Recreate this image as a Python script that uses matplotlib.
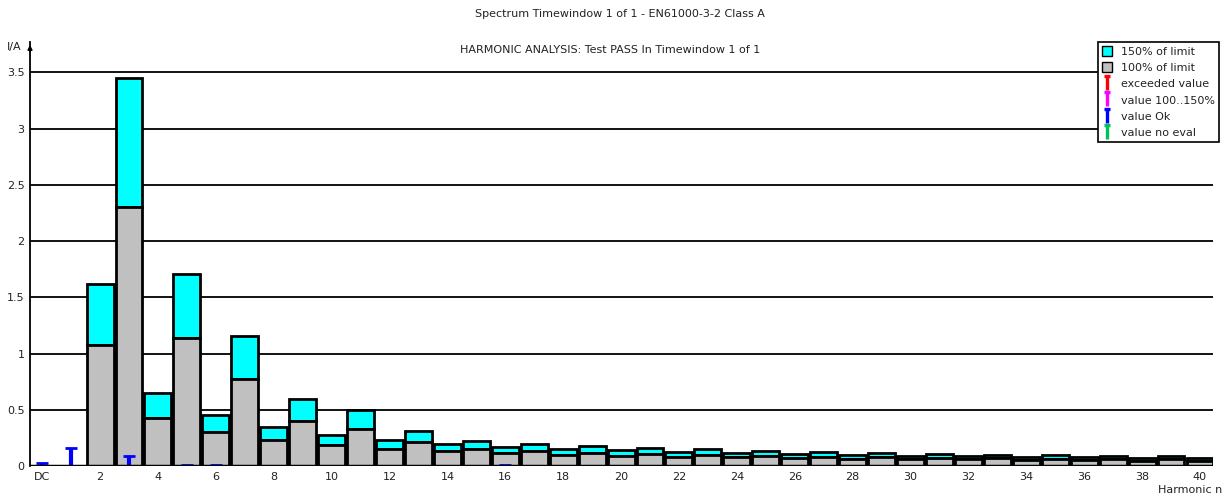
import matplotlib
matplotlib.use("Agg")
import matplotlib.pyplot as plt
from matplotlib.patches import Rectangle
from matplotlib.lines import Line2D
from matplotlib.path import Path

# EN61000-3-2 Class A limits (A) for harmonics 2..40
harmonics = list(range(2, 41))
limit_100 = [1.08, 2.30, 0.43, 1.14, 0.30, 0.77, 0.23, 0.40, 0.184, 0.33,
             0.153, 0.21, 0.131, 0.15, 0.115, 0.132, 0.102, 0.118, 0.092, 0.107,
             0.084, 0.098, 0.077, 0.09, 0.071, 0.083, 0.066, 0.078, 0.061, 0.073,
             0.058, 0.068, 0.054, 0.064, 0.051, 0.061, 0.048, 0.058, 0.046]
limit_150 = [v * 1.5 for v in limit_100]

# Measured currents (A), index 0 = DC, 1 = fundamental
measured_n = [0, 1, 3, 5, 6, 16]
measured_val = [0.025, 0.16, 0.09, 0.012, 0.012, 0.006]

tick_pos = [0] + list(range(2, 41, 2))
tick_lab = ["DC"] + [str(v) for v in range(2, 41, 2)]
ytick_vals = [0, 0.5, 1, 1.5, 2, 2.5, 3, 3.5]
ytick_labs = ["0", "0.5", "1", "1.5", "2", "2.5", "3", "3.5"]

txt = "#222222"
cyan = "#00ffff"
gray = "#c0c0c0"

fig = plt.figure(figsize=(12.25, 4.97), dpi=100)
ax = fig.add_axes([30 / 1225, 1 - 466 / 497, (1213 - 30) / 1225, (466 - 42) / 497])

width = 0.93
ax.bar(harmonics, [b - a for a, b in zip(limit_100, limit_150)], bottom=limit_100,
       width=width, color=cyan, edgecolor="black", linewidth=2.0, zorder=3)
ax.bar(harmonics, limit_100, width=width, color=gray, edgecolor="black",
       linewidth=2.0, zorder=3)

# Measured values drawn as T-shaped markers
ax.vlines(measured_n, 0, measured_val, colors="#0000ff", linewidth=3, zorder=4)
ax.hlines(measured_val, [n - 0.2 for n in measured_n], [n + 0.2 for n in measured_n],
          colors="#0000ff", linewidth=2, zorder=4)

ax.set_xlim(-0.42, 40.45)
ax.set_ylim(0, 3.77)
for y in ytick_vals[1:]:
    ax.axhline(y, color="black", linewidth=1.3, zorder=1)
ax.axhline(0, color="black", linewidth=2.5, zorder=5)

for s in ["top", "right", "bottom"]:
    ax.spines[s].set_visible(False)
ax.spines["left"].set_linewidth(1.3)

ax.set_xticks(tick_pos)
ax.set_xticklabels(tick_lab, fontsize=8, color=txt)
ax.set_yticks(ytick_vals)
ax.set_yticklabels(ytick_labs, fontsize=8, color=txt)
ax.tick_params(axis="both", length=0, pad=4)

# y axis arrow head
ax.annotate("", xy=(0, 1.0), xytext=(0, 0.97), xycoords="axes fraction",
            arrowprops=dict(arrowstyle="-|>", color="black", lw=1.0,
                            mutation_scale=7), annotation_clip=False)

fig.text(14 / 1225, 1 - 47 / 497, "I/A", fontsize=8, color=txt, ha="center", va="center")
fig.text(1190 / 1225, 1 - 490 / 497, "Harmonic n", fontsize=8, color=txt,
         ha="center", va="center")
fig.text(620 / 1225, 1 - 14 / 497, "Spectrum Timewindow 1 of 1 - EN61000-3-2 Class A",
         fontsize=8, color=txt, ha="center", va="center")
fig.text(610 / 1225, 1 - 50 / 497, "HARMONIC ANALYSIS: Test PASS In Timewindow 1 of 1",
         fontsize=8, color=txt, ha="center", va="center")

# T-shaped legend glyph
t_marker = Path([(0, -1), (0, 1), (-0.5, 1), (0.5, 1)],
                [Path.MOVETO, Path.LINETO, Path.MOVETO, Path.LINETO])


def t_handle(color):
    return Line2D([], [], color=color, marker=t_marker, ls="", ms=9.5, mew=2.4)


handles = [
    Rectangle((0, 0), 1, 1, facecolor=cyan, edgecolor="black", lw=1),
    Rectangle((0, 0), 1, 1, facecolor=gray, edgecolor="black", lw=1),
    t_handle("red"),
    t_handle("#ff00ff"),
    t_handle("#0000ff"),
    t_handle("#00c060"),
]
labels = ["150% of limit", "100% of limit", "exceeded value", "value 100..150%",
          "value Ok", "value no eval"]
leg = fig.legend(handles, labels, loc="upper left",
                 bbox_to_anchor=(1098 / 1225, 1 - 42 / 497), fontsize=8,
                 frameon=True, fancybox=False, framealpha=1, edgecolor="black",
                 handlelength=0.9, handleheight=1.0, handletextpad=0.8,
                 labelspacing=0.5, borderpad=0.35, borderaxespad=0)
leg.get_frame().set_linewidth(1.2)
for t in leg.get_texts():
    t.set_color(txt)

fig.savefig("out.png", dpi=100)
